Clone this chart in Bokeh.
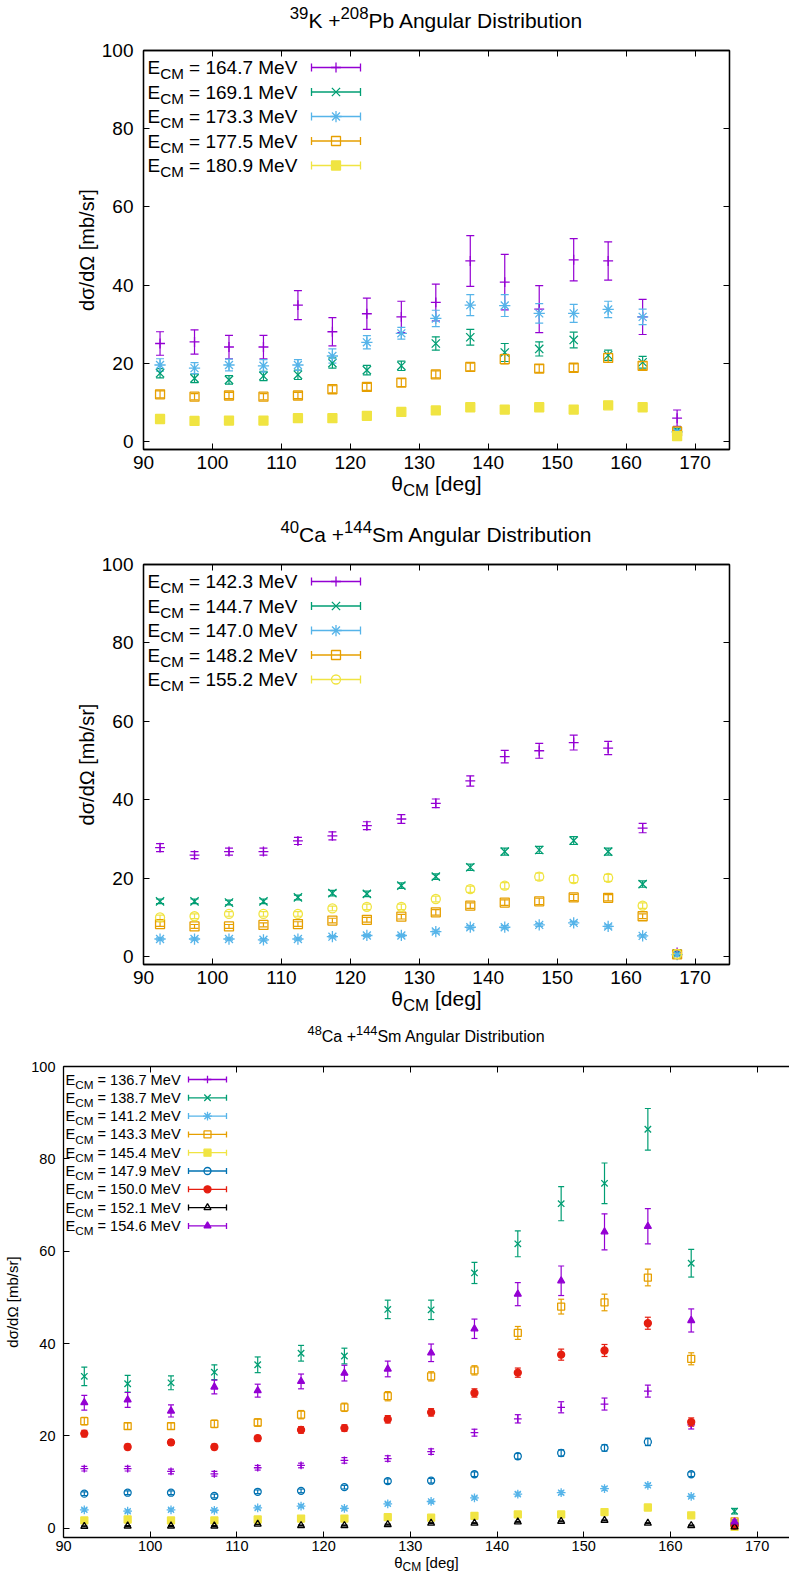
from bokeh.plotting import figure
from bokeh.models import (Range1d, FixedTicker, LinearAxis, Whisker,
                          ColumnDataSource, TeeHead, CustomJSTickFormatter)
from bokeh.core.properties import value
from bokeh.embed import file_html
from bokeh.resources import INLINE

# ---------------- data ----------------
theta = [92.4, 97.4, 102.4, 107.4, 112.4, 117.4, 122.4, 127.4,
         132.4, 137.4, 142.4, 147.4, 152.4, 157.4, 162.4, 167.4]
x_ticks = [90, 100, 110, 120, 130, 140, 150, 160, 170]
y_ticks = [0, 20, 40, 60, 80, 100]

# 39K + 208Pb
k_energies = ["164.7", "169.1", "173.3", "177.5", "180.9"]
k_1647 = [25.1, 25.5, 24.2, 24.2, 34.9, 28.1, 32.7, 31.9, 35.6, 46.2, 40.8, 33.9, 46.5, 46.2, 31.9, 6.0]
k_1647_err = [3.0, 3.1, 3.0, 3.0, 3.7, 3.6, 4.0, 4.0, 4.7, 6.5, 7.1, 6.0, 5.4, 4.9, 4.5, 2.1]
k_1691 = [17.5, 16.2, 15.8, 16.8, 17.1, 20.1, 18.3, 19.4, 25.1, 26.7, 22.8, 23.7, 26.0, 22.1, 20.3, 2.8]
k_1691_err = [1.2, 1.1, 1.1, 1.2, 1.2, 1.3, 1.2, 1.2, 1.7, 2.0, 2.3, 1.8, 2.0, 1.3, 1.5, 0.6]
k_1733 = [19.6, 18.8, 19.6, 19.4, 19.6, 21.9, 25.4, 27.7, 31.5, 34.9, 34.8, 32.8, 32.8, 33.8, 31.9, 2.5]
k_1733_err = [1.6, 1.4, 1.5, 1.6, 1.4, 1.8, 1.7, 1.5, 2.1, 2.7, 2.8, 2.5, 2.3, 2.1, 2.0, 0.5]
k_1775 = [12.1, 11.5, 11.8, 11.5, 11.8, 13.4, 14.0, 15.1, 17.2, 19.1, 21.1, 18.7, 18.9, 21.4, 19.4, 2.6]
k_1775_err = [0.9, 0.8, 0.8, 0.8, 0.8, 0.9, 0.9, 1.0, 0.9, 1.0, 1.2, 1.0, 1.0, 1.1, 1.0, 0.3]
k_1809 = [5.8, 5.3, 5.4, 5.4, 6.0, 6.0, 6.6, 7.6, 8.0, 8.8, 8.2, 8.8, 8.2, 9.3, 8.8, 1.4]
k_1809_err = [0.3, 0.3, 0.3, 0.3, 0.3, 0.3, 0.3, 0.4, 0.4, 0.4, 0.4, 0.4, 0.4, 0.4, 0.4, 0.2]

# 40Ca + 144Sm
c40_energies = ["142.3", "144.7", "147.0", "148.2", "155.2"]
c40_1423 = [27.8, 25.9, 26.8, 26.8, 29.5, 30.8, 33.4, 35.1, 39.1, 44.8, 51.0, 52.5, 54.6, 53.2, 32.8, 1.1]
c40_1423_err = [1.0, 0.9, 0.9, 0.9, 0.9, 1.0, 1.0, 1.1, 1.1, 1.3, 1.6, 1.9, 1.9, 1.7, 1.2, 0.3]
c40_1447 = [14.1, 14.1, 13.8, 14.1, 15.1, 16.2, 16.0, 18.1, 20.4, 22.8, 26.8, 27.2, 29.6, 26.8, 18.5, 0.8]
c40_1447_err = [0.6, 0.6, 0.6, 0.6, 0.6, 0.7, 0.7, 0.7, 0.7, 0.8, 0.9, 0.9, 1.0, 0.9, 0.8, 0.2]
c40_1470 = [4.5, 4.5, 4.5, 4.3, 4.5, 5.1, 5.4, 5.4, 6.4, 7.5, 7.5, 8.1, 8.6, 7.7, 5.3, 0.5]
c40_1470_err = [0.3, 0.3, 0.3, 0.3, 0.3, 0.3, 0.3, 0.3, 0.4, 0.4, 0.4, 0.4, 0.4, 0.4, 0.3, 0.1]
c40_1482 = [8.3, 7.7, 7.7, 8.1, 8.3, 9.2, 9.4, 10.2, 11.3, 13.0, 13.8, 14.1, 15.1, 15.0, 10.3, 0.6]
c40_1482_err = [0.6, 0.5, 0.5, 0.5, 0.6, 0.6, 0.6, 0.6, 0.7, 0.7, 0.7, 0.8, 0.8, 0.8, 0.6, 0.2]
c40_1552 = [10.0, 10.3, 10.9, 10.9, 10.9, 12.3, 12.7, 12.7, 14.7, 17.2, 18.1, 20.4, 19.8, 20.1, 13.0, 0.7]
c40_1552_err = [0.6, 0.6, 0.6, 0.6, 0.6, 0.6, 0.7, 0.7, 0.7, 0.8, 0.8, 0.9, 0.9, 0.9, 0.7, 0.2]

# 48Ca + 144Sm
c48_energies = ["136.7", "138.7", "141.2", "143.3", "145.4", "147.9", "150.0", "152.1", "154.6"]
c48_1367 = [12.9, 12.9, 12.3, 11.8, 13.1, 13.6, 14.7, 15.1, 16.6, 20.7, 23.7, 26.2, 26.9, 29.7, 22.4, 1.0]
c48_1367_err = [0.5, 0.5, 0.5, 0.5, 0.5, 0.5, 0.6, 0.6, 0.6, 0.75, 0.9, 1.2, 1.3, 1.3, 0.9, 0.2]
c48_1387 = [32.9, 31.3, 31.5, 33.8, 35.4, 37.9, 37.3, 47.4, 47.3, 55.3, 61.6, 70.3, 74.7, 86.4, 57.4, 3.7]
c48_1387_err = [2.0, 1.8, 1.5, 1.6, 1.7, 1.7, 1.7, 2.0, 2.1, 2.3, 2.8, 3.7, 4.4, 4.5, 3.0, 0.6]
c48_1412 = [4.0, 3.7, 4.0, 3.9, 4.4, 4.8, 4.3, 5.3, 5.8, 6.6, 7.4, 7.7, 8.6, 9.3, 6.9, 1.2]
c48_1412_err = [0.3, 0.3, 0.3, 0.3, 0.3, 0.3, 0.3, 0.3, 0.3, 0.3, 0.4, 0.4, 0.4, 0.4, 0.3, 0.2]
c48_1433 = [23.2, 22.1, 22.1, 22.6, 22.9, 24.6, 26.2, 28.6, 32.9, 34.2, 42.3, 48.0, 48.9, 54.3, 36.7, 1.5]
c48_1433_err = [0.8, 0.7, 0.7, 0.8, 0.8, 0.9, 0.9, 1.0, 1.0, 1.0, 1.4, 1.6, 1.8, 1.8, 1.3, 0.3]
c48_1454 = [1.7, 1.9, 1.7, 1.7, 1.9, 2.1, 2.1, 2.4, 2.3, 2.7, 3.0, 3.0, 3.5, 4.5, 2.8, 0.3]
c48_1454_err = [0.2, 0.2, 0.2, 0.2, 0.2, 0.2, 0.2, 0.2, 0.2, 0.2, 0.2, 0.2, 0.2, 0.3, 0.2, 0.1]
c48_1479 = [7.5, 7.7, 7.7, 7.0, 7.9, 8.1, 8.9, 10.2, 10.3, 11.7, 15.6, 16.3, 17.4, 18.7, 11.7, 0.7]
c48_1479_err = [0.4, 0.4, 0.4, 0.4, 0.4, 0.4, 0.4, 0.5, 0.5, 0.5, 0.6, 0.7, 0.7, 0.8, 0.5, 0.2]
c48_1500 = [20.5, 17.6, 18.6, 17.6, 19.5, 21.3, 21.7, 23.6, 25.1, 29.3, 33.7, 37.6, 38.5, 44.4, 23.0, 0.6]
c48_1500_err = [0.7, 0.6, 0.6, 0.6, 0.6, 0.7, 0.7, 0.8, 0.8, 0.9, 1.0, 1.2, 1.3, 1.3, 0.9, 0.2]
c48_1521 = [0.4, 0.5, 0.5, 0.5, 0.9, 0.6, 0.6, 0.8, 1.1, 1.1, 1.4, 1.5, 1.7, 1.1, 0.6, 0.3]
c48_1521_err = [0.1, 0.1, 0.1, 0.1, 0.1, 0.1, 0.1, 0.1, 0.1, 0.1, 0.1, 0.1, 0.1, 0.1, 0.1, 0.1]
c48_1546 = [27.2, 27.8, 25.4, 30.6, 29.8, 31.8, 33.6, 34.5, 38.0, 43.2, 50.7, 53.6, 64.2, 65.4, 45.0, 1.4]
c48_1546_err = [1.6, 1.6, 1.3, 1.5, 1.4, 1.6, 1.7, 1.7, 1.9, 2.1, 2.5, 3.2, 3.9, 3.8, 2.5, 0.4]

# ---------------- styling ----------------
FONT = "Liberation Sans"
COLORS = ["#9400D3", "#009E73", "#56B4E9", "#E69F00", "#F0E442",
          "#0072B2", "#E51E10", "#000000", "#9400D3"]
# (marker, filled, size factor)
MK_ALL = [("cross", False, 1.1), ("x", False, 1.3), ("asterisk", False, 1.25),
          ("square", False, 1.0), ("square", True, 1.0), ("circle", False, 1.0),
          ("circle", True, 1.0), ("triangle", False, 1.0), ("triangle", True, 1.0)]
MK_P2 = MK_ALL[:4] + [("circle", False, 1.0)]

ADV = {' ': 278, '+': 584, '=': 584, '.': 278, '/': 278, '[': 278, ']': 278,
       'A': 667, 'C': 722, 'D': 722, 'E': 667, 'K': 667, 'M': 833, 'P': 667,
       'S': 667, 'V': 667, 'a': 556, 'b': 556, 'd': 556, 'e': 556, 'g': 556,
       'i': 222, 'l': 222, 'm': 833, 'n': 556, 'o': 556, 'r': 333, 's': 500,
       't': 278, 'u': 556, '\u03b8': 556}


def tw(s, fs):
    return sum(ADV.get(c, 556) for c in s) / 1000.0 * fs


class Geo:
    def __init__(self, x0, x1, y0, y1, fw, fh):
        self.x0, self.y1 = x0, y1
        self.ux = (x1 - x0) / fw
        self.uy = (y1 - y0) / fh

    def X(self, px):
        return self.x0 + px * self.ux

    def Y(self, py):
        return self.y1 - py * self.uy


def rich(p, g, x_px, c_px, pieces, fs, align="left"):
    """Text made of normal / sub / sup pieces. x_px: start (or centre) x,
    c_px: vertical centre line of the normal text; both relative to the
    frame's top-left corner, in pixels."""
    def fsz(mode):
        return fs if mode == "n" else fs * 0.8
    total = sum(tw(t, fsz(m)) for t, m in pieces)
    cx = x_px - (total / 2 if align == "center" else 0)
    for t, m in pieces:
        f = fsz(m)
        lead = len(t) - len(t.lstrip(' '))
        cx += lead * 0.278 * f
        body = t.strip(' ')
        dy = 0 if m == "n" else (0.33 * fs if m == "sub" else -0.36 * fs)
        if body:
            p.text(x=[g.X(cx)], y=[g.Y(c_px + dy)], text=[body],
                   text_font=value(FONT), text_font_size=value(f"{f:.1f}px"),
                   text_baseline="middle", text_align="left",
                   text_color="black", level="overlay")
        cx += tw(body, f)
        trail = len(t) - len(t.rstrip(' '))
        cx += trail * 0.278 * f


def style_axis(ax, fs, standoff, ticks):
    ax.ticker = FixedTicker(ticks=ticks)
    ax.axis_line_color = "black"
    ax.axis_line_width = 1.3
    ax.major_tick_in = 6
    ax.major_tick_out = 0
    ax.major_tick_line_color = "black"
    ax.major_tick_line_width = 1
    ax.minor_tick_line_color = None
    ax.major_label_text_font = FONT
    ax.major_label_text_font_size = f"{fs}px"
    ax.major_label_text_color = "black"
    ax.major_label_standoff = standoff


def panel(cfg, series, energies, markers, title_pieces):
    fw, fh = cfg["fw"], cfg["fh"]
    W = cfg["l"] + fw + cfg["r"]
    H = cfg["t"] + fh + cfg["b"]
    g = Geo(90, cfg["xend"], -2, 100, fw, fh)
    p = figure(width=W, height=H, x_range=Range1d(90, cfg["xend"]),
               y_range=Range1d(-2, 100), output_backend="svg",
               toolbar_location=None, min_border_left=cfg["l"],
               min_border_right=cfg["r"], min_border_top=cfg["t"],
               min_border_bottom=cfg["b"])
    p.title.visible = False
    p.grid.visible = False
    p.background_fill_color = "white"
    p.border_fill_color = "white"
    p.outline_line_color = "black" if cfg["outline"] else None
    p.outline_line_width = 1.3

    style_axis(p.xaxis[0], cfg["tick_fs"], cfg["xstand"], x_ticks)
    style_axis(p.yaxis[0], cfg["tick_fs"], cfg["ystand"], y_ticks)
    p.yaxis[0].axis_label = "d\u03c3/d\u03a9 [mb/sr]"
    p.yaxis[0].axis_label_text_font = FONT
    p.yaxis[0].axis_label_text_font_style = "normal"
    p.yaxis[0].axis_label_text_font_size = f"{cfg['ylab_fs']}px"
    p.yaxis[0].axis_label_text_color = "black"
    p.yaxis[0].axis_label_standoff = cfg["ylab_stand"]

    top = LinearAxis(formatter=CustomJSTickFormatter(code="return ''"))
    style_axis(top, 1, 0, x_ticks)
    p.add_layout(top, "above")
    if cfg["right_axis"]:
        right = LinearAxis(formatter=CustomJSTickFormatter(code="return ''"))
        style_axis(right, 1, 0, y_ticks)
        p.add_layout(right, "right")

    ms = cfg["ms"]
    for i, (vals, errs) in enumerate(series):
        col = COLORS[i]
        mk, filled, sf = markers[i]
        src = ColumnDataSource(dict(
            x=theta, y=vals,
            lo=[v - e for v, e in zip(vals, errs)],
            hi=[v + e for v, e in zip(vals, errs)]))
        w = Whisker(source=src, base="x", lower="lo", upper="hi",
                    dimension="height", line_color=col, line_width=1.2,
                    lower_head=TeeHead(size=cfg["cap"], line_color=col, line_width=1.2),
                    upper_head=TeeHead(size=cfg["cap"], line_color=col, line_width=1.2))
        p.add_layout(w)
        p.scatter("x", "y", source=src, marker=mk, size=ms * sf,
                  line_color=col, line_width=1.3,
                  fill_color=col if filled else None)

        # legend entry
        rc = cfg["leg_y0"] + i * cfg["leg_dy"]
        rich(p, g, cfg["leg_x"], rc,
             [("E", "n"), ("CM", "sub"), (f" = {energies[i]} MeV", "n")],
             cfg["leg_fs"])
        sx0, sx1 = cfg["samp"]
        ycen = g.Y(rc)
        p.segment(x0=[g.X(sx0)], x1=[g.X(sx1)], y0=[ycen], y1=[ycen],
                  line_color=col, line_width=1.3)
        hc = cfg["cap"] / 2.0
        p.segment(x0=[g.X(sx0), g.X(sx1)], x1=[g.X(sx0), g.X(sx1)],
                  y0=[g.Y(rc - hc)] * 2, y1=[g.Y(rc + hc)] * 2,
                  line_color=col, line_width=1.3)
        p.scatter(x=[g.X((sx0 + sx1) / 2.0)], y=[ycen], marker=mk, size=ms * sf,
                  line_color=col, line_width=1.3,
                  fill_color=col if filled else None)

    # title and x label (outside the frame, drawn at overlay level)
    rich(p, g, fw / 2.0, cfg["title_c"], title_pieces, cfg["title_fs"], "center")
    rich(p, g, fw / 2.0, fh + cfg["xlab_c"],
         [("\u03b8", "n"), ("CM", "sub"), (" [deg]", "n")], cfg["xlab_fs"], "center")
    return p


cfg1 = dict(l=143, r=50, t=50, b=57, fw=586, fh=399, xend=175, outline=True,
            right_axis=True, tick_fs=19, xlab_fs=21, ylab_fs=20, leg_fs=19,
            title_fs=21, xstand=6, ystand=10, ylab_stand=1, ms=9, cap=8,
            leg_x=4, leg_y0=17, leg_dy=24.5, samp=(168, 217),
            title_c=-30, xlab_c=34)
cfg2 = dict(cfg1, t=58, b=56, fh=400)
cfg3 = dict(l=63, r=0, t=46, b=39, fw=726, fh=471, xend=90 + 726 / 8.67,
            outline=False, right_axis=False, tick_fs=14.5, xlab_fs=15, ylab_fs=15,
            leg_fs=14.6, title_fs=16, xstand=3, ystand=8, ylab_stand=7,
            ms=7, cap=6, leg_x=2, leg_y0=13, leg_dy=18.3, samp=(125, 163),
            title_c=-30, xlab_c=25)

s1 = [(k_1647, k_1647_err), (k_1691, k_1691_err), (k_1733, k_1733_err),
      (k_1775, k_1775_err), (k_1809, k_1809_err)]
s2 = [(c40_1423, c40_1423_err), (c40_1447, c40_1447_err), (c40_1470, c40_1470_err),
      (c40_1482, c40_1482_err), (c40_1552, c40_1552_err)]
s3 = [(c48_1367, c48_1367_err), (c48_1387, c48_1387_err), (c48_1412, c48_1412_err),
      (c48_1433, c48_1433_err), (c48_1454, c48_1454_err), (c48_1479, c48_1479_err),
      (c48_1500, c48_1500_err), (c48_1521, c48_1521_err), (c48_1546, c48_1546_err)]

p1 = panel(cfg1, s1, k_energies, MK_ALL,
           [("39", "sup"), ("K +", "n"), ("208", "sup"), ("Pb Angular Distribution", "n")])
p2 = panel(cfg2, s2, c40_energies, MK_P2,
           [("40", "sup"), ("Ca +", "n"), ("144", "sup"), ("Sm Angular Distribution", "n")])
p3 = panel(cfg3, s3, c48_energies, MK_ALL,
           [("48", "sup"), ("Ca +", "n"), ("144", "sup"), ("Sm Angular Distribution", "n")])

open("out.html", "w").write(file_html([p1, p2, p3], INLINE))
